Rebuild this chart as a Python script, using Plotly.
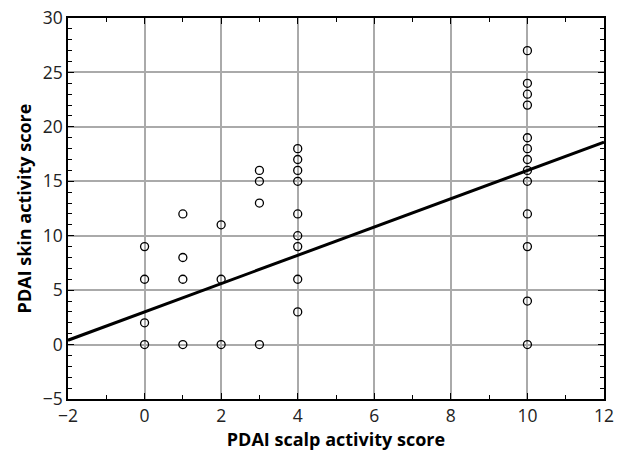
import plotly.graph_objects as go

scalp = [0, 0, 0, 0,
         1, 1, 1, 1,
         2, 2, 2,
         3, 3, 3, 3,
         4, 4, 4, 4, 4, 4, 4, 4, 4,
         10, 10, 10, 10, 10, 10, 10, 10, 10, 10, 10, 10, 10]
skin = [0, 2, 6, 9,
        0, 6, 8, 12,
        0, 6, 11,
        0, 13, 15, 16,
        3, 6, 9, 10, 12, 15, 16, 17, 18,
        0, 4, 9, 12, 15, 16, 17, 18, 19, 22, 23, 24, 27]

fit_intercept = 3.0
fit_slope = 1.3
fit_x = [-2, 12]
fit_y = [fit_intercept + fit_slope * v for v in fit_x]

fig = go.Figure()
fig.add_trace(go.Scatter(x=fit_x, y=fit_y, mode="lines",
                         line=dict(color="black", width=3), hoverinfo="skip"))
fig.add_trace(go.Scatter(x=scalp, y=skin, mode="markers",
                         marker=dict(symbol="circle-open", size=8, color="black",
                                     line=dict(width=1.3, color="black"))))

font_family = "Open Sans, Lato, sans-serif"
axis_common = dict(
    showline=True, linecolor="black", linewidth=1.5, mirror="allticks",
    ticks="inside", ticklen=6, tickcolor="black", tickwidth=1.2,
    showgrid=True, gridcolor="#aaaaaa", gridwidth=1.5,
    zeroline=False, automargin=False,
    tickfont=dict(family=font_family, size=17.5, color="#222"),
    minor=dict(ticks="inside", ticklen=4, tickcolor="black", tickwidth=1, dtick=1, showgrid=False),
)

fig.update_layout(
    width=620, height=457,
    margin=dict(l=68, r=16, t=18, b=58),
    paper_bgcolor="white", plot_bgcolor="white",
    showlegend=False,
    xaxis=dict(range=[-2, 12], dtick=2, tick0=0,
               title=dict(text="<b>PDAI scalp activity score</b>", standoff=1,
                          font=dict(family=font_family, size=18, color="black")),
               **axis_common),
    yaxis=dict(range=[-5, 30], dtick=5, tick0=0,
               title=dict(text="<b>PDAI skin activity score</b>", standoff=6,
                          font=dict(family=font_family, size=18, color="black")),
               **axis_common),
)
fig.update_yaxes(tickformat="d")
fig.write_html("out.html",
               config={"displayModeBar": False},
               post_script="document.body.style.margin='0px';document.body.style.overflow='hidden';")
